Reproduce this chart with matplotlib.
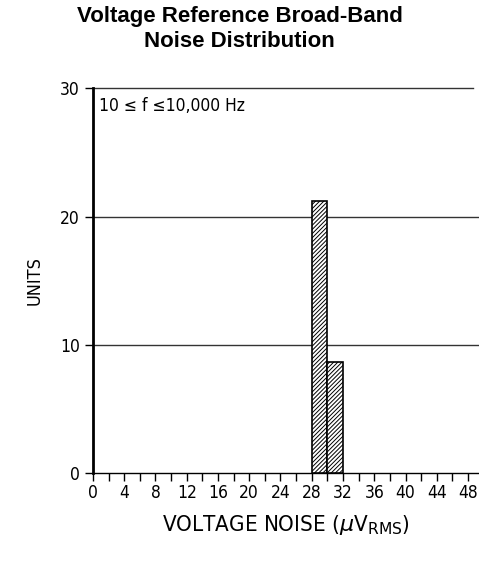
import matplotlib.pyplot as plt

bin_left = [28, 30]
units = [21.2, 8.7]
bin_width = 2
y_ticks = [0, 10, 20, 30]
x_major = list(range(0, 49, 4))
x_minor = list(range(0, 49, 2))

plt.rcParams['font.family'] = ['DejaVu Sans']
plt.rcParams['hatch.linewidth'] = 0.7

fig = plt.figure(figsize=(4.79, 5.62), dpi=100)
ax = fig.add_axes([0.194, 0.158, 0.806, 0.685])

ax.bar(bin_left, units, width=bin_width, align='edge', color='white',
       edgecolor='black', hatch='////////', linewidth=1.2, zorder=3)

for y in [10, 20]:
    ax.axhline(y, color='#333333', linewidth=1.0, zorder=1)
ax.plot([0, 48.6], [30, 30], color='#333333', linewidth=1.0,
        clip_on=False, zorder=1)

ax.set_xlim(0, 49.4)
ax.set_ylim(0, 30)
ax.spines['right'].set_visible(False)
ax.spines['top'].set_visible(False)
ax.spines['left'].set_linewidth(2.0)
ax.spines['bottom'].set_linewidth(1.0)

ax.set_yticks(y_ticks)
ax.set_xticks(x_major)
ax.set_xticks(x_minor, minor=True)
ax.tick_params(axis='y', direction='out', length=6, width=1, labelsize=12.5)
ax.tick_params(axis='x', which='both', direction='out', length=6, width=1,
               labelsize=12.5, pad=2)
for lab in ax.get_xticklabels() + ax.get_yticklabels():
    lab.set_fontstretch('condensed')

ax.text(0.8, 28.6, '10 \u2264 f \u226410,000 Hz', fontsize=12.5,
        fontstretch='condensed', va='center', ha='left')

ax.set_ylabel('UNITS', fontsize=13, fontstretch='condensed', labelpad=12)
ax.set_xlabel(r'VOLTAGE NOISE ($\mu$V$_{\mathrm{RMS}}$)', fontsize=16,
              fontstretch='condensed', labelpad=8)

fig.text(0.5, 0.99, 'Voltage Reference Broad-Band\nNoise Distribution',
         ha='center', va='top', fontsize=16, fontweight='bold',
         family=['Liberation Sans', 'DejaVu Sans'], linespacing=1.3)

fig.savefig('out.png', dpi=100)
